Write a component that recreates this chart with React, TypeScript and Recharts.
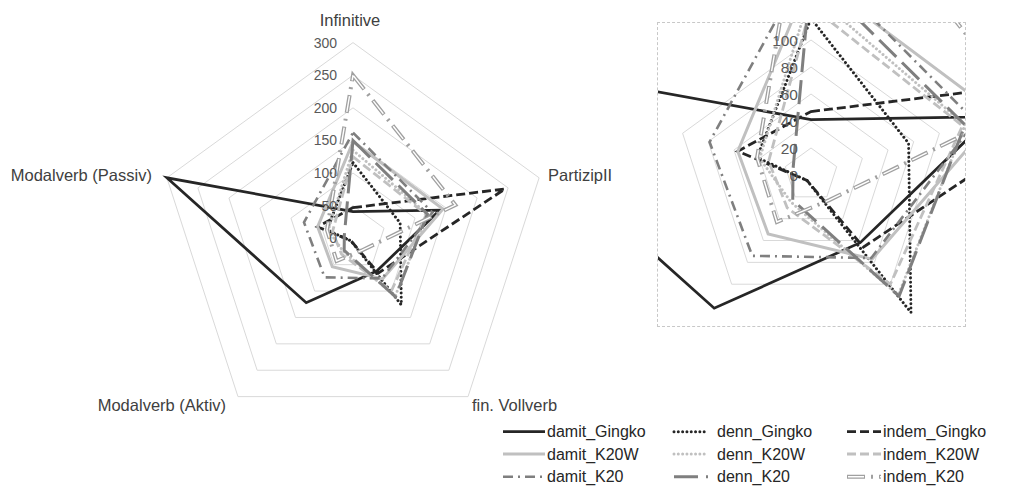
import React from "react";
import { PolarAngleAxis, PolarGrid, PolarRadiusAxis, Radar, RadarChart } from "recharts";

const categories = ["Infinitive", "PartizipII", "fin. Vollverb", "Modalverb (Aktiv)", "Modalverb (Passiv)"];

const damitGingko = [41, 140, 62, 122, 300];
const dennGingko = [116, 76, 126, 5, 42];
const indemGingko = [47, 245, 66, 5, 57];
const damitK20W = [148, 145, 77, 54, 57];
const dennK20W = [135, 120, 110, 25, 40];
const indemK20W = [125, 118, 100, 30, 33];
const damitK20 = [162, 128, 76, 74, 79];
const dennK20 = [150, 120, 111, 23, 14];
const indemK20 = [250, 165, 23, 43, 42];

const mainTicks = [0, 50, 100, 150, 200, 250, 300];
const insetTicks = [0, 20, 40, 60, 80, 100];

const seriesNames = [
  "damit_Gingko", "denn_Gingko", "indem_Gingko",
  "damit_K20W", "denn_K20W", "indem_K20W",
  "damit_K20", "denn_K20", "indem_K20",
];
const seriesValues = [
  damitGingko, dennGingko, indemGingko,
  damitK20W, dennK20W, indemK20W,
  damitK20, dennK20, indemK20,
];

const data = categories.map((axis, i) => {
  const row: Record<string, string | number> = { axis };
  seriesNames.forEach((name, s) => (row[name] = seriesValues[s][i]));
  return row;
});

const BLACK = "#262626";
const LIGHT = "#c0c0c0";
const MID = "#7f7f7f";
const FONT = "'Liberation Sans', Arial, sans-serif";

type LineStyle = { color: string; width: number; dash?: string; cap?: "round" | "butt"; inner?: string };

const styles: Record<string, LineStyle> = {
  damit_Gingko: { color: BLACK, width: 2.75 },
  denn_Gingko: { color: BLACK, width: 3, dash: "0.01 4.3", cap: "round" },
  indem_Gingko: { color: BLACK, width: 2.8, dash: "9 4" },
  damit_K20W: { color: LIGHT, width: 3 },
  denn_K20W: { color: LIGHT, width: 3, dash: "0.01 4.3", cap: "round" },
  indem_K20W: { color: LIGHT, width: 2.8, dash: "9 4" },
  damit_K20: { color: MID, width: 2.6, dash: "10 5 2 5" },
  denn_K20: { color: MID, width: 3, dash: "24 8" },
  indem_K20: { color: "#a0a0a0", width: 4, dash: "18 6 2 6", inner: "0 1 16 15" },
};

// where the category labels sit relative to recharts' tick point
const labelPlace: Record<string, { dx: number; dy: number; anchor: string }> = {
  Infinitive: { dx: -3, dy: -14.6, anchor: "middle" },
  PartizipII: { dx: 1.3, dy: -0.4, anchor: "start" },
  "fin. Vollverb": { dx: -0.8, dy: 2, anchor: "start" },
  "Modalverb (Aktiv)": { dx: -7.2, dy: 2, anchor: "end" },
  "Modalverb (Passiv)": { dx: -7.3, dy: -0.4, anchor: "end" },
};

function AngleTick(props: any) {
  const { x, y, payload } = props;
  const p = labelPlace[payload.value] || { dx: 0, dy: 0, anchor: "middle" };
  return (
    <text x={x + p.dx} y={y + p.dy} textAnchor={p.anchor} dominantBaseline="central"
      fontFamily={FONT} fontSize={16.5} fill="#404040">
      {payload.value}
    </text>
  );
}

function radiusTick(offset: number, size: number) {
  return (props: any) => (
    <text x={props.x - offset} y={props.y} textAnchor="end" dominantBaseline="central"
      fontFamily={FONT} fontSize={size} fill="#595959">
      {props.payload.value}
    </text>
  );
}

function renderRadars() {
  const out: React.ReactNode[] = [];
  seriesNames.forEach((name) => {
    const s = styles[name];
    out.push(
      <Radar key={name} name={name} dataKey={name} stroke={s.color} strokeWidth={s.width}
        strokeDasharray={s.dash} strokeLinecap={s.cap || "butt"} fill="none" fillOpacity={0}
        dot={false} isAnimationActive={false} />
    );
    if (s.inner) {
      out.push(
        <Radar key={name + "-inner"} dataKey={name} stroke="#ffffff" strokeWidth={1.4}
          strokeDasharray={s.inner} fill="none" fillOpacity={0} dot={false}
          legendType="none" isAnimationActive={false} />
      );
    }
  });
  return out;
}

function LegendBlock() {
  const cols = [{ x1: 495, x2: 537, tx: 539 }, { x1: 666, x2: 700, tx: 709 }, { x1: 839, x2: 873, tx: 875 }];
  const rows = [423.7, 446, 468.7];
  return (
    <svg width={999} height={479} style={{ position: "absolute", left: 0, top: 0, pointerEvents: "none" }}>
      {seriesNames.map((name, i) => {
        const c = cols[i % 3];
        const y = rows[Math.floor(i / 3)];
        const s = styles[name];
        return (
          <g key={name}>
            <line x1={c.x1} x2={c.x2} y1={y} y2={y} stroke={s.color} strokeWidth={s.width}
              strokeDasharray={s.dash} strokeLinecap={s.cap || "butt"} />
            {s.inner && (
              <line x1={c.x1} x2={c.x2} y1={y} y2={y} stroke="#fff" strokeWidth={1.4} strokeDasharray={s.inner} />
            )}
            <text x={c.tx} y={y} dominantBaseline="central" fontFamily={FONT} fontSize={16} fill="#262626">
              {name}
            </text>
          </g>
        );
      })}
    </svg>
  );
}

export default function App() {
  return (
    <div style={{ position: "relative", width: 999, height: 479, background: "#fff" }}>
      <div style={{ position: "absolute", left: 0, top: 0 }}>
        <RadarChart width={640} height={479} data={data} cx={345} cy={230.3} outerRadius={195.7}
          margin={{ top: 0, right: 0, bottom: 0, left: 0 }}>
          <PolarGrid radialLines={false} stroke="#d9d9d9" />
          <PolarAngleAxis dataKey="axis" tick={AngleTick} tickLine={false} axisLine={false} />
          <PolarRadiusAxis angle={90} domain={[0, 300]} ticks={mainTicks} tickCount={7}
            axisLine={false} tickLine={false} tick={radiusTick(16, 14)} />
          {renderRadars()}
        </RadarChart>
      </div>
      <div style={{ position: "absolute", left: 649, top: 14, width: 309, height: 305, boxSizing: "border-box",
        border: "1px dashed #c8c8c8", overflow: "hidden" }}>
        <RadarChart width={307} height={303} data={data} cx={153} cy={152} outerRadius={135}
          margin={{ top: 0, right: 0, bottom: 0, left: 0 }}>
          <PolarGrid radialLines={false} stroke="#d9d9d9" />
          <PolarAngleAxis dataKey="axis" tick={false} tickLine={false} axisLine={false} />
          <PolarRadiusAxis angle={90} domain={[0, 100]} ticks={insetTicks} tickCount={6} allowDataOverflow
            axisLine={false} tickLine={false} tick={radiusTick(13, 15.5)} />
          {renderRadars()}
        </RadarChart>
      </div>
      <LegendBlock />
    </div>
  );
}
